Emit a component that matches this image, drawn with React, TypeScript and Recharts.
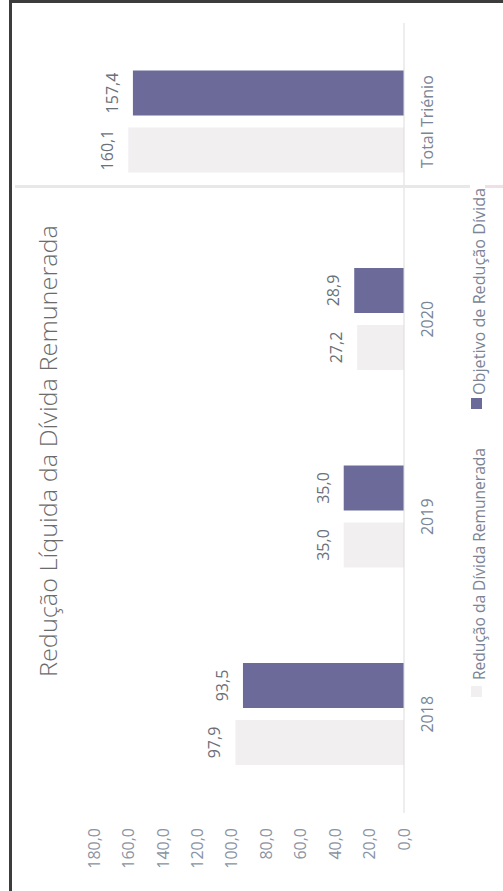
import React from 'react';
import { BarChart, Bar, XAxis, YAxis, LabelList } from 'recharts';

const categories = ['2018', '2019', '2020', 'Total Triénio'];
const reducaoValues = [97.9, 35.0, 27.2, 160.1];
const objetivoValues = [93.5, 35.0, 28.9, 157.4];
const valueTicks = [0, 20, 40, 60, 80, 100, 120, 140, 160, 180];
const seriesNames = ['Redução da Dívida Remunerada', 'Objetivo de Redução Dívida'];
const seriesColors = ['#f2eff1', '#6b6a99'];
const chartTitle = 'Redução Líquida da Dívida Remunerada';

// legend layout (in the unrotated frame)
const legendMarkerX = [194, 482];
const legendTextX = [211, 496];
const legendTextLen = [232, 207];

const data = categories.map((c, i) => ({
  category: c,
  reducao: reducaoValues[i],
  objetivo: objetivoValues[i],
}));

const fmt = (v: any) => Number(v).toFixed(1).replace('.', ',');

const FONT = '"Open Sans", "Noto Sans", sans-serif';

export default function App() {
  return (
    <div
      style={{
        position: 'absolute',
        left: 0,
        top: 0,
        width: 503,
        height: 891,
        overflow: 'hidden',
        background: '#ffffff',
        fontFamily: FONT,
      }}
    >
      {/* chart drawn 891 x 503, turned a quarter turn counter-clockwise */}
      <div
        style={{
          position: 'absolute',
          left: 0,
          top: 0,
          width: 891,
          height: 503,
          transformOrigin: '0 0',
          transform: 'translateY(891px) rotate(-90deg)',
        }}
      >
        <BarChart
          width={891}
          height={503}
          data={data}
          margin={{ top: 94, right: 23, bottom: 35, left: 0 }}
          barGap={12}
          barSize={45}
        >
          <XAxis
            dataKey="category"
            tickLine={false}
            axisLine={{ stroke: '#dcdcdc' }}
            tick={{ fill: '#7a8595', fontSize: 16 }}
            tickMargin={12}
            height={64}
            interval={0}
          />
          <YAxis
            domain={[0, 180]}
            ticks={valueTicks}
            tickFormatter={fmt}
            axisLine={false}
            tickLine={false}
            width={78}
            tickMargin={9}
            tick={{ fill: '#8a93a2', fontSize: 16 }}
          />
          <Bar dataKey="reducao" name={seriesNames[0]} fill={seriesColors[0]} isAnimationActive={false}>
            <LabelList dataKey="reducao" position="top" offset={15} formatter={fmt} fill="#6b7079" fontSize={16} />
          </Bar>
          <Bar dataKey="objetivo" name={seriesNames[1]} fill={seriesColors[1]} isAnimationActive={false}>
            <LabelList dataKey="objetivo" position="top" offset={15} formatter={fmt} fill="#6b7079" fontSize={16} />
          </Bar>
        </BarChart>
        <svg
          width={891}
          height={503}
          style={{ position: 'absolute', left: 0, top: 0, pointerEvents: 'none' }}
          fontFamily={FONT}
        >
          <text
            x={214}
            y={57}
            textAnchor="start"
            fontSize={24.3}
            fontWeight={300}
            fill="#6b6b6b"
            textLength={452}
            lengthAdjust="spacingAndGlyphs"
          >
            {chartTitle}
          </text>
          {seriesNames.map((name, i) => (
            <g key={name}>
              <rect x={legendMarkerX[i]} y={471} width={11} height={11} fill={seriesColors[i]} />
              <text
                x={legendTextX[i]}
                y={485}
                fontSize={16}
                fill="#7b8494"
                textLength={legendTextLen[i]}
                lengthAdjust="spacingAndGlyphs"
              >
                {name}
              </text>
            </g>
          ))}
        </svg>
      </div>
      {/* scan artefact line and frame */}
      <div style={{ position: 'absolute', left: 15, top: 185, width: 455, height: 3, background: '#e8e8e8' }} />
      <div style={{ position: 'absolute', left: 485, top: 185, width: 18, height: 3, background: '#f1dfe6' }} />
      <div
        style={{
          position: 'absolute',
          left: 9,
          top: 0,
          width: 494,
          height: 891,
          borderLeft: '3px solid #3c3c3c',
          borderTop: '3px solid #3c3c3c',
          boxSizing: 'border-box',
        }}
      />
    </div>
  );
}
